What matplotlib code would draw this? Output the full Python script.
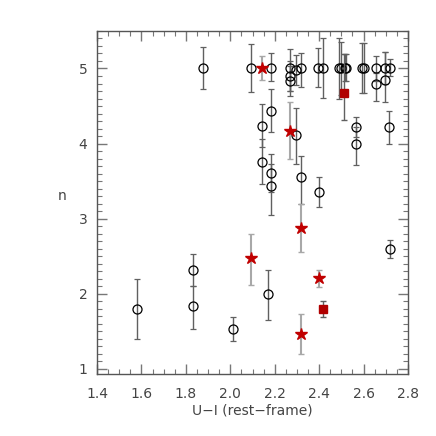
import numpy as np
import matplotlib
matplotlib.use("Agg")
import matplotlib.pyplot as plt
from matplotlib.ticker import MultipleLocator

# circles: x, n, lower err, upper err
circ_x = [1.58, 1.83, 1.83, 2.01, 2.17, 2.40, 2.72,
          1.876, 2.092, 2.182, 2.269, 2.269, 2.269, 2.295, 2.319, 2.397, 2.417,
          2.489, 2.498, 2.515, 2.522, 2.595, 2.604, 2.657, 2.696, 2.721,
          2.182, 2.142, 2.142, 2.182, 2.182, 2.295, 2.319, 2.567, 2.567,
          2.657, 2.696, 2.714]
circ_y = [1.80, 2.32, 1.84, 1.53, 1.99, 3.36, 2.59,
          5.0, 5.0, 5.0, 5.0, 4.90, 4.83, 4.98, 5.0, 5.0, 5.0,
          5.0, 5.0, 5.0, 5.0, 5.0, 5.0, 5.0, 5.0, 5.0,
          4.44, 4.24, 3.76, 3.61, 3.43, 4.11, 3.56, 4.22, 4.00,
          4.79, 4.85, 4.22]
circ_lo = [0.40, 0.22, 0.31, 0.16, 0.34, 0.20, 0.11,
           0.27, 0.31, 0.17, 0.30, 0.20, 0.20, 0.20, 0.25, 0.24, 0.39,
           0.40, 0.35, 0.17, 0.17, 0.32, 0.32, 0.16, 0.20, 0.10,
           0.29, 0.29, 0.30, 0.25, 0.38, 0.38, 0.36, 0.13, 0.28,
           0.22, 0.29, 0.22]
circ_hi = [0.40, 0.21, 0.26, 0.16, 0.33, 0.20, 0.12,
           0.29, 0.33, 0.21, 0.26, 0.20, 0.20, 0.20, 0.20, 0.27, 0.41,
           0.41, 0.35, 0.19, 0.19, 0.34, 0.34, 0.16, 0.22, 0.13,
           0.29, 0.29, 0.30, 0.25, 0.30, 0.37, 0.28, 0.13, 0.22,
           0.15, 0.37, 0.22]

# stars
star_x = [2.141, 2.094, 2.269, 2.317, 2.400, 2.317]
star_y = [5.0, 2.47, 4.17, 2.88, 2.21, 1.47]
star_lo = [0.15, 0.35, 0.38, 0.32, 0.12, 0.27]
star_hi = [0.16, 0.33, 0.39, 0.31, 0.11, 0.26]

# squares
sq_x = [2.514, 2.416]
sq_y = [4.68, 1.80]
sq_lo = [0.36, 0.11]
sq_hi = [0.51, 0.10]

xticks = [1.4, 1.6, 1.8, 2.0, 2.2, 2.4, 2.6, 2.8]
yticks = [1, 2, 3, 4, 5]

fig = plt.figure(figsize=(4.36, 4.36), dpi=100)
ax = fig.add_axes([0.2225, 0.142, 0.7133, 0.787])

ax.errorbar(circ_x, circ_y, yerr=[circ_lo, circ_hi], fmt='o', mfc='none',
            mec='black', mew=0.9, ms=6.5, ecolor='#606060', elinewidth=1,
            capsize=2.5, capthick=1, zorder=3)
ax.errorbar(star_x, star_y, yerr=[star_lo, star_hi], fmt='*', mfc='#c00000',
            mec='#c00000', ms=9, ecolor='#a8a8a8', elinewidth=1.5,
            capsize=2.5, capthick=1, zorder=4)
ax.errorbar(sq_x, sq_y, yerr=[sq_lo, sq_hi], fmt='s', mfc='#b00000',
            mec='#b00000', ms=5.5, ecolor='#606060', elinewidth=1,
            capsize=2.5, capthick=1, zorder=4)

ax.set_xlim(1.4, 2.8)
ax.set_ylim(0.93, 5.5)
ax.set_xticks(xticks)
ax.set_xticklabels(['%.1f' % v for v in xticks])
ax.set_yticks(yticks)
ax.set_yticklabels([str(v) for v in yticks])
ax.xaxis.set_minor_locator(MultipleLocator(0.05))
ax.yaxis.set_minor_locator(MultipleLocator(0.1))

for s in ax.spines.values():
    s.set_color('#555555')
    s.set_linewidth(1)
ax.tick_params(which='both', direction='in', top=True, right=True,
               color='#777777', labelcolor='#444444', labelsize=10)
ax.tick_params(which='major', length=7, width=1)
ax.tick_params(axis='x', which='major', pad=9)
ax.tick_params(axis='y', which='major', pad=7)
ax.tick_params(which='minor', length=3.5, width=0.8)

ax.set_xlabel('U\u2212I (rest\u2212frame)', fontsize=10, color='#444444', labelpad=2)
ax.set_ylabel('n', fontsize=10, color='#444444', rotation=0, labelpad=12)

fig.savefig('out.png', dpi=100)
